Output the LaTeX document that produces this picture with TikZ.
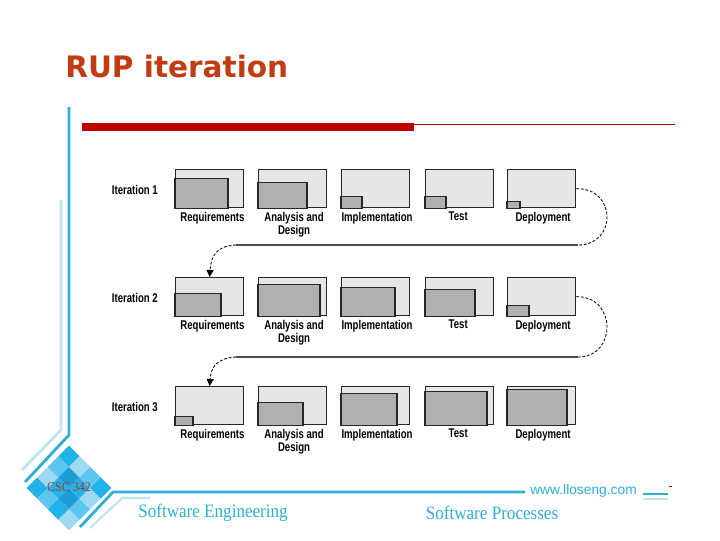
\documentclass[tikz,border=0pt]{standalone}
\usepackage{fontspec}
\usepackage{tikz}
\usetikzlibrary{arrows.meta, positioning, calc}
\setmainfont{Liberation Serif}
\newfontfamily\figfont[FakeStretch=0.76]{Liberation Sans}
\newfontfamily\titlefont{DejaVu Sans}
\newfontfamily\footfont[FakeStretch=0.9]{Liberation Serif}
\newfontfamily\urlfont{Liberation Sans}
\definecolor{cTitle}{HTML}{C23B12}
\definecolor{cBar}{HTML}{C00000}
\definecolor{cCyan}{HTML}{2BB0DA}
\definecolor{cPale}{HTML}{BFE3F2}
\definecolor{cBoxLight}{HTML}{E6E6E6}
\definecolor{cBoxDark}{HTML}{B0B0B0}
\definecolor{cEdge}{HTML}{262626}
\definecolor{cLogoText}{HTML}{A33A2C}
\definecolor{logoA}{HTML}{22B2EA}
\definecolor{logoB}{HTML}{5CC6EE}
\definecolor{logoC}{HTML}{9ED9F2}
\definecolor{logoD}{HTML}{1C9BD6}

\begin{document}
\begin{tikzpicture}[x=0.025cm, y=-0.025cm,
  phase/.style={draw=cEdge, line width=0.9pt, fill=cBoxLight, minimum width=1.7cm, minimum height=0.95cm, inner sep=0pt, anchor=north west},
  done/.style={draw=cEdge, line width=0.9pt, fill=cBoxDark},
  lbl/.style={font=\figfont\bfseries\fontsize{9}{9.3}\selectfont, align=center, inner sep=1pt},
  loopback/.style={black, line width=0.6pt, dash pattern=on 2pt off 1.3pt},
  back/.style={black!70, line width=0.9pt},
  foot/.style={font=\footfont\fontsize{13.5}{15}\selectfont, text=cCyan, inner sep=0pt},
]
  \useasboundingbox (0,0) rectangle (720,540);
  % ---- header ----
  \node[font=\titlefont\bfseries\fontsize{21}{24}\selectfont, text=cTitle, anchor=base west, inner sep=0pt] (title) at (65,77) {RUP iteration};
  \fill[cBar] (82,123) rectangle (414,131);
  \draw[cBar, line width=0.7pt] (414,124) -- (675,124);
  \draw[cPale, line width=2pt] (61,200) -- (61,430) -- (22,470);
  \draw[cCyan, line width=2pt] (69,107) -- (69,435) -- (25,482);
  % ---- phase boxes ----
  \foreach \r/\y in {1/169, 2/277, 3/386}
    \foreach \p/\x in {req/175, ana/258, imp/341, tst/425, dep/507}
      \node[phase] (it\r-\p) at (\x,\y) {};
  % amount of work done in each phase
  \foreach \p/\w/\h in {req/53/30, ana/49/26, imp/21/12, tst/21/12, dep/13/7}
    \draw[done] (it1-\p.south west) rectangle ++(\w,-\h);
  \foreach \p/\w/\h in {req/46/23, ana/62/32, imp/54/29, tst/50/27, dep/22/11}
    \draw[done] (it2-\p.south west) rectangle ++(\w,-\h);
  \foreach \p/\w/\h in {req/18/9, ana/45/23, imp/56/32, tst/62/34, dep/60/36}
    \draw[done] (it3-\p.south west) rectangle ++(\w,-\h);
  % labels
  \foreach \r in {1,2,3} {
    \node[lbl, left=11pt of it\r-req, yshift=-1pt] (it\r-lbl) {Iteration \r};
    \node[lbl, below=1.5pt of it\r-req, xshift=2pt] (l\r-req) {Requirements};
    \node[lbl, below=1.5pt of it\r-ana, xshift=1pt] (l\r-ana) {Analysis and\\Design};
    \node[lbl, below=1.5pt of it\r-imp, xshift=1pt] (l\r-imp) {Implementation};
    \node[lbl, below=1.5pt of it\r-tst, xshift=-1pt, text depth=1.9pt] (l\r-tst) {Test};
    \node[lbl, below=1.5pt of it\r-dep, xshift=1pt] (l\r-dep) {Deployment};
  }
  % ---- iteration 1 -> 2 ----
  \coordinate (t1a) at (578,245); \coordinate (t1b) at (236,245);
  \draw[loopback] (it1-dep.east) .. controls (617,188) and (617,245) .. (t1a);
  \draw[back] (t1a) -- (t1b);
  \draw[loopback, -{Triangle[length=5pt,width=5pt]}] (t1b) .. controls (217,246) and (211,255) .. (it2-req.north);
  % ---- iteration 2 -> 3 ----
  \coordinate (t2a) at (578,357); \coordinate (t2b) at (236,357);
  \draw[loopback] (it2-dep.east) .. controls (617,296) and (617,357) .. (t2a);
  \draw[back] (t2a) -- (t2b);
  \draw[loopback, -{Triangle[length=5pt,width=5pt]}] (t2b) .. controls (217,358) and (211,367) .. (it3-req.north);
  % ---- footer ----
  \begin{scope}[shift={(69,488)}, rotate=45]
    \foreach \i/\j/\c in {0/0/logoA, 1/0/logoC, 2/0/logoB, 3/0/logoA,
                          0/1/logoB, 1/1/logoA, 2/1/logoD, 3/1/logoC,
                          0/2/logoA, 1/2/logoD, 2/2/logoA, 3/2/logoB,
                          0/3/logoC, 1/3/logoB, 2/3/logoC, 3/3/logoA}
      \fill[\c] (-30+15*\i,-30+15*\j) rectangle ++(15,15);
  \end{scope}
  \node[font=\footfont\fontsize{9.5}{10}\selectfont, text=cLogoText, inner sep=0pt] (logo) at (69,487) {CSC 342};
  \draw[cPale, line width=1.5pt] (90,528) -- (122,498) -- (150,498);
  \draw[cCyan, line width=2pt] (80,527) -- (113,492) -- (525,492);
  \node[font=\urlfont\fontsize{9.8}{11}\selectfont, text=cCyan, anchor=west, inner sep=0pt] (url) at (530,491) {www.lloseng.com};
  \draw[cCyan, line width=2pt] (643,494) -- (668,494);
  \draw[cPale, line width=1pt] (643,499) -- (668,499);
  \draw[cBar, line width=0.6pt] (669,486) -- (672,486);
  \node[foot] (course) at (213,513) {Software Engineering};
  \node[foot] (topic) at (492,513) {Software Processes};
\end{tikzpicture}
\end{document}
